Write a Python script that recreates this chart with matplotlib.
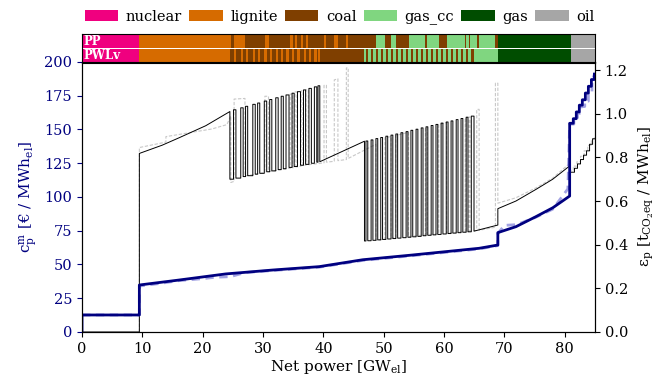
import numpy as np
import matplotlib
matplotlib.use("Agg")
import matplotlib.pyplot as plt
from matplotlib.patches import Patch

plt.rcParams["font.family"] = ["DejaVu Serif"]
plt.rcParams["mathtext.fontset"] = "dejavuserif"
plt.rcParams["font.size"] = 11
plt.rcParams["xtick.labelsize"] = 10.5
plt.rcParams["ytick.labelsize"] = 10.5

# fuel colours
fuels = ["nuclear", "lignite", "coal", "gas_cc", "gas", "oil"]
fuel_colors = {"nuclear": "#f0007f", "lignite": "#d66b00", "coal": "#7f3f00",
               "gas_cc": "#80d680", "gas": "#004d00", "oil": "#a6a6a6"}

# merit order of the single power plants (PP): segment start [GW] and fuel
pp_start = [0.0, 9.5, 24.65, 25.2, 27.0, 30.3, 30.9, 34.5, 34.9, 35.3, 35.6, 36.3, 36.6,
            37.1, 37.5, 40.1, 40.5, 41.8, 42.4, 43.8, 44.1, 48.7, 50.2, 51.2, 52.0, 54.1,
            56.9, 57.2, 59.1, 60.4, 63.5, 63.6, 64.1, 64.3, 65.4, 65.8, 68.5, 68.9, 81.0]
pp_fuel = ["nuclear", "lignite", "coal", "lignite", "coal", "lignite", "coal", "lignite",
           "coal", "lignite", "coal", "lignite", "coal", "lignite", "coal", "lignite", "coal",
           "lignite", "coal", "lignite", "coal", "gas_cc", "coal", "gas_cc", "coal", "gas_cc",
           "coal", "gas_cc", "coal", "gas_cc", "coal", "gas_cc", "coal", "gas_cc", "coal",
           "gas_cc", "coal", "gas", "oil"]
x_end = 85.0

# PWLv: lignite teeth between coal (24.5 - 39.4 GW)
lig_up = [25.1, 26.3, 27.1, 28.3, 29.1, 30.2, 31.1, 32.1, 33.0, 33.8, 34.8, 35.7, 36.7, 37.6, 38.5, 39.1]
lig_down = [25.5, 26.7, 27.45, 28.7, 29.45, 30.6, 31.45, 32.5, 33.35, 34.3, 35.15, 36.2, 37.05, 38.0, 38.9, 39.4]
lig_top = [1.018, 1.027, 1.034, 1.043, 1.049, 1.058, 1.065, 1.073, 1.080, 1.086, 1.094, 1.101,
           1.109, 1.116, 1.123, 1.128]
coal_low = [0.705, 0.712, 0.716, 0.723, 0.727, 0.734, 0.738, 0.744, 0.748, 0.754, 0.758, 0.764,
            0.768, 0.773, 0.778, 0.780]

# PWLv: coal teeth between gas_cc (46.8 - 65 GW)
coal_up = [47.05, 47.9, 48.7, 49.5, 50.35, 51.2, 52.0, 52.85, 53.7, 54.5, 55.35, 56.2, 57.0,
           57.85, 58.65, 59.5, 60.35, 61.15, 62.0, 62.8, 63.65, 64.5]
coal_down = [47.35, 48.2, 49.0, 49.8, 50.65, 51.5, 52.3, 53.15, 54.0, 54.8, 55.65, 56.5, 57.3,
             58.15, 58.95, 59.8, 60.65, 61.45, 62.3, 63.1, 63.95, 64.95]
coal_top = [0.875, 0.880, 0.886, 0.891, 0.897, 0.902, 0.907, 0.913, 0.918, 0.924, 0.929, 0.935,
            0.940, 0.946, 0.951, 0.957, 0.962, 0.967, 0.973, 0.978, 0.984, 0.989]
gascc_low = [0.418, 0.420, 0.422, 0.424, 0.426, 0.428, 0.430, 0.432, 0.434, 0.436, 0.438, 0.441,
             0.443, 0.445, 0.447, 0.449, 0.451, 0.453, 0.455, 0.457, 0.459, 0.462]

# remaining PWLv emission pieces
em_head_x = [0.0, 9.5, 9.5, 13.3, 16.1, 20.5, 24.5, 24.5]
em_head_y = [0.0, 0.0, 0.818, 0.856, 0.890, 0.945, 1.010, 0.700]
em_mid_x = [39.4, 46.8, 46.8]
em_mid_y = [0.780, 0.874, 0.417]
em_tail_x = [64.95, 68.9, 68.9, 71.9, 75.2, 78.0, 80.9, 80.9, 81.6, 81.6, 82.1, 82.1, 82.6, 82.6,
             83.1, 83.1, 83.6, 83.6, 84.1, 84.1, 84.6, 84.6, 85.0]
em_tail_y = [0.462, 0.490, 0.565, 0.600, 0.653, 0.700, 0.763, 0.732, 0.732, 0.750, 0.750, 0.770,
             0.770, 0.790, 0.790, 0.810, 0.810, 0.830, 0.830, 0.860, 0.860, 0.885, 0.885]

# PP emission (dashed)
pp_em_x = [9.5, 9.5, 13.9, 13.9, 21.5, 24.0, 24.65, 24.65, 25.2, 25.2, 27.0, 27.0, 30.3, 30.3,
           30.9, 30.9, 34.5, 34.5, 34.9, 34.9, 35.3, 35.3, 35.6, 35.6, 36.3, 36.3, 36.6, 36.6,
           37.1, 37.1, 37.5, 37.5, 40.1, 40.1, 40.5, 40.5, 41.8, 41.8, 42.4, 42.4, 43.8, 43.8,
           44.1, 44.1, 48.7, 48.7, 50.2, 50.2, 51.2, 51.2, 52.0, 52.0, 54.1, 54.1, 56.9, 56.9,
           57.2, 57.2, 59.1, 59.1, 60.4, 60.4, 63.5, 63.5, 63.6, 63.6, 64.1, 64.1, 64.3, 64.3,
           65.4, 65.4, 65.8, 65.8, 68.5, 68.5, 68.9, 68.9, 71.9, 75.2, 78.0, 80.9, 80.9, 81.4,
           81.4, 82.0, 82.0, 82.6, 82.6, 83.2, 83.2, 83.8, 83.8, 84.4, 84.4, 85.0]
pp_em_y = [0.0, 0.845, 0.870, 0.895, 0.930, 0.950, 0.990, 0.685, 0.690, 1.067, 1.070, 0.715,
           0.730, 1.080, 1.080, 0.735, 0.750, 1.090, 1.090, 0.752, 0.754, 1.100, 1.100, 0.756,
           0.760, 1.105, 1.105, 0.762, 0.764, 1.110, 1.110, 0.766, 0.775, 1.130, 1.130, 0.778,
           0.782, 1.155, 1.160, 0.785, 0.790, 1.210, 1.210, 0.795, 0.860, 0.420, 0.425, 0.890,
           0.895, 0.430, 0.432, 0.900, 0.915, 0.437, 0.445, 0.935, 0.937, 0.446, 0.450, 0.950,
           0.960, 0.453, 0.460, 0.980, 0.980, 0.460, 0.460, 0.985, 0.985, 0.462, 0.465, 1.020,
           1.020, 0.466, 0.480, 1.140, 1.140, 0.590, 0.615, 0.660, 0.705, 0.775, 0.740, 0.740,
           0.760, 0.760, 0.780, 0.780, 0.805, 0.805, 0.830, 0.830, 0.855, 0.855, 0.880, 0.890]

# marginal cost PWLv (solid) and PP (dashed)
cost_x = [0.0, 0.0, 9.5, 9.5, 16.1, 23.8, 31.6, 39.3, 41.0, 46.5, 54.7, 65.8, 68.9, 68.9, 71.9,
          75.2, 78.0, 80.8, 80.8, 81.4, 81.4, 81.9, 81.9, 82.4, 82.4, 82.9, 82.9, 83.4, 83.4,
          83.9, 83.9, 84.4, 84.4, 84.9, 84.9]
cost_y = [0.0, 12.6, 12.6, 34.8, 38.5, 43.0, 45.9, 48.4, 49.6, 53.5, 57.0, 62.0, 64.4, 73.6,
          78.0, 85.4, 92.0, 100.7, 154.6, 154.6, 158.0, 158.0, 163.0, 163.0, 168.0, 168.0, 172.0,
          172.0, 177.0, 177.0, 182.0, 182.0, 187.0, 187.0, 191.0]
pp_cost_x = [0.0, 9.5, 9.5, 13.0, 16.0, 20.0, 22.0, 24.6, 27.0, 31.6, 39.3, 46.5, 54.7, 65.8,
             68.9, 68.9, 70.0, 72.0, 75.2, 78.0, 80.5, 80.8, 81.5, 81.5, 82.1, 82.1, 82.7, 82.7,
             83.3, 83.3, 83.9, 83.9, 84.5, 84.5, 85.0]
pp_cost_y = [12.6, 12.6, 34.0, 36.0, 38.0, 39.5, 40.5, 41.0, 44.0, 45.5, 48.0, 53.0, 56.5, 61.5,
             64.0, 73.0, 79.0, 79.5, 85.0, 91.0, 106.0, 154.0, 154.0, 157.0, 157.0, 162.0, 162.0,
             167.0, 167.0, 171.0, 171.0, 178.0, 178.0, 186.0, 192.0]


def pwlv_emission():
    xs = list(em_head_x)
    ys = list(em_head_y)
    low = em_head_y[-1]
    for u, d, t, l in zip(lig_up, lig_down, lig_top, coal_low):
        xs += [u, u, d, d]
        ys += [low, t, t, l]
        low = l
    xs += em_mid_x
    ys += em_mid_y
    low = em_mid_y[-1]
    for u, d, t, l in zip(coal_up, coal_down, coal_top, gascc_low):
        xs += [u, u, d, d]
        ys += [low, t, t, l]
        low = l
    xs += em_tail_x
    ys += em_tail_y
    return xs, ys


def pwlv_segments():
    starts = [0.0, 9.5, 24.5]
    kinds = ["nuclear", "lignite", "coal"]
    for u, d in zip(lig_up, lig_down):
        starts += [u, d]
        kinds += ["lignite", "coal"]
    starts.append(46.8)
    kinds.append("gas_cc")
    for u, d in zip(coal_up, coal_down):
        starts += [u, d]
        kinds += ["coal", "gas_cc"]
    starts += [68.9, 81.0]
    kinds += ["gas", "oil"]
    return starts, kinds


fig = plt.figure(figsize=(6.62, 3.85), dpi=100)
ax = fig.add_axes([0.1239, 0.1377, 0.7749, 0.7013])
ax2 = ax.twinx()
ax.set_zorder(ax2.get_zorder() + 1)
ax.patch.set_visible(False)

# emissions (right axis)
ex, ey = pwlv_emission()
ax2.plot(pp_em_x, pp_em_y, color="#c8c8c8", lw=0.8, ls=(0, (3, 1.5)))
ax2.plot(ex, ey, color="black", lw=0.7)
ax2.set_ylim(0, 1.237)
ax2.set_yticks([0.0, 0.2, 0.4, 0.6, 0.8, 1.0, 1.2])
ax2.set_ylabel(r"$\mathrm{\varepsilon_p}$ [t$_\mathrm{CO_2eq}$ / MWh$_\mathrm{el}$]", labelpad=6)

# cost (left axis)
ax.plot(pp_cost_x, pp_cost_y, color="#8c8cdc", lw=2.0, ls=(0, (3, 2)), alpha=0.8)
ax.plot(cost_x, cost_y, color="navy", lw=2.0)
ax.set_xlim(0, x_end)
ax.set_ylim(0, 200)
ax.set_yticks(np.arange(0, 201, 25))
ax.set_xticks(np.arange(0, 81, 10))
ax.tick_params(axis="y", colors="navy")
ax.spines["left"].set_color("black")
ax.set_ylabel(r"$\mathrm{c_p^m}$ [€ / MWh$_\mathrm{el}$]", color="navy")
ax.set_xlabel(r"Net power [GW$_\mathrm{el}$]", labelpad=2)

# fuel bars on top
axb = fig.add_axes([0.1239, 0.8364, 0.7749, 0.0753])
rows = [("PP", pp_start, pp_fuel, 1.5), ("PWLv",) + pwlv_segments() + (0.5,)]
for name, starts, kinds, yc in rows:
    ends = starts[1:] + [x_end]
    widths = [e - s for s, e in zip(starts, ends)]
    axb.barh(yc, widths, left=starts, height=0.9,
             color=[fuel_colors[k] for k in kinds], edgecolor="none", linewidth=0)
    axb.text(0.3, yc, name, color="white", fontsize=8.5, fontweight="bold", va="center", ha="left")
axb.set_xlim(0, x_end)
axb.set_ylim(0, 2)
axb.set_xticks([])
axb.set_yticks([])

handles = [Patch(facecolor=fuel_colors[f], label=f) for f in fuels]
fig.legend(handles=handles, loc="center", bbox_to_anchor=(0.513, 0.956), ncol=6,
           frameon=False, handlelength=2.3, handleheight=0.85, handletextpad=0.5,
           columnspacing=0.5, borderaxespad=0, fontsize=10.5)

fig.savefig("out.png", dpi=100)
